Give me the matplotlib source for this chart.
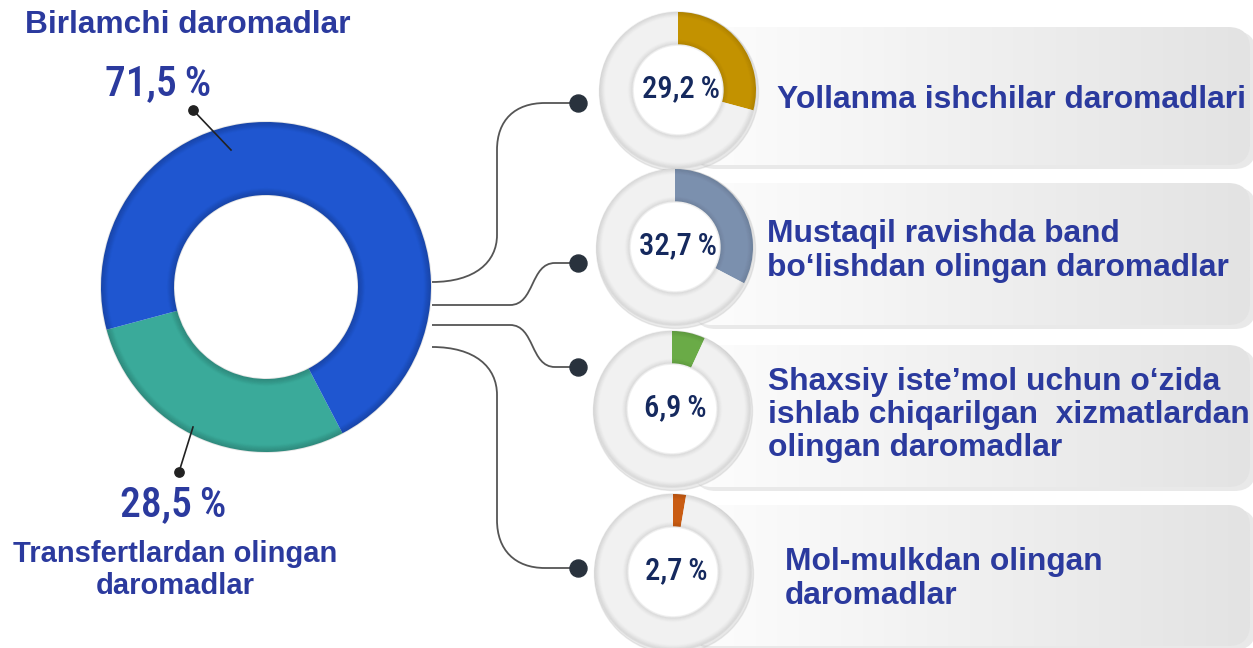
import numpy as np
import matplotlib.pyplot as plt
from matplotlib import font_manager
from matplotlib.patches import Circle, FancyBboxPatch, PathPatch
from matplotlib.path import Path
from matplotlib.colors import LinearSegmentedColormap

# main split
main_names = ['Transfertlardan olingan\ndaromadlar', 'Birlamchi daromadlar']
main_values = [28.5, 71.5]
main_colors = ['#3aaa9a', '#1f56d0']

# breakdown of primary income
sub_names = ['Yollanma ishchilar daromadlari',
             'Mustaqil ravishda band\nbo‘lishdan olingan daromadlar',
             'Shaxsiy iste’mol uchun o‘zida\nishlab chiqarilgan  xizmatlardan\nolingan daromadlar',
             'Mol-mulkdan olingan\ndaromadlar']
sub_values = [29.2, 32.7, 6.9, 2.7]
sub_colors = ['#c39200', '#7b90ae', '#6aab47', '#c95c13']

W, H = 1253, 648
TXT = '#2b3a9e'
NAVY = '#15295e'
BOLD = ['Liberation Sans', 'DejaVu Sans']

# look for some condensed face for the percentages
narrow_fam, narrow_stretch = 'Liberation Sans', 'normal'
have = font_manager.fontManager.ttflist
for want in ['Roboto Condensed', 'Liberation Sans Narrow', 'Open Sans Condensed', 'Noto Sans Condensed']:
    if any(f.name == want for f in have):
        narrow_fam = want
        break
else:
    for f in have:
        if f.name in ('DejaVu Sans', 'Noto Sans', 'Roboto', 'Open Sans') and \
                str(f.stretch) in ('condensed', 'semi-condensed', 'extra-condensed'):
            narrow_fam, narrow_stretch = f.name, f.stretch
            break
narrow_ok = narrow_fam != 'Liberation Sans'
NARROW = [narrow_fam, 'DejaVu Sans']


def pct(v):
    return ('%.1f' % v).replace('.', ',') + '\u2009%'


def shade_ring(ax, c, r_out, r_in, z, strength=0.07, n=8, step=0.9):
    # fake soft shadow on both rims
    for i in range(n):
        a = strength * (n - i) / n
        ax.add_patch(Circle(c, r_out - i * step, fill=False, lw=1.3, ec='black', alpha=a, zorder=z))
        ax.add_patch(Circle(c, r_in + i * step, fill=False, lw=1.3, ec='black', alpha=a, zorder=z))


fig = plt.figure(figsize=(W / 100, H / 100), dpi=100)
ax = fig.add_axes([0, 0, 1, 1])

# big donut (y axis is flipped later, so angles run the other way)
big_c = (266, 287)
ax.pie(main_values, colors=main_colors, radius=165, center=big_c,
       startangle=165, counterclock=False,
       wedgeprops=dict(width=73, edgecolor='none', zorder=2))
shade_ring(ax, big_c, 165, 92, 3, strength=0.1)

# leader lines for big donut
ax.plot([193, 231], [110, 150], color='#222222', lw=1.2, zorder=4)
ax.plot([179, 193], [472, 427], color='#222222', lw=1.2, zorder=4)
ax.scatter([193, 179], [110, 472], s=45, color='#222222', zorder=5)

big_fs = 30 if narrow_ok else 26
small_fs = 22 if narrow_ok else 18
ax.text(188, 25, main_names[1], ha='center', va='center', fontsize=22.8,
        fontweight='bold', color=TXT, family=BOLD)
ax.text(158, 84, pct(main_values[1]), ha='center', va='center', fontsize=big_fs,
        fontweight='medium', color=TXT, family=NARROW, fontstretch=narrow_stretch)
ax.text(173, 505, pct(main_values[0]), ha='center', va='center', fontsize=big_fs,
        fontweight='medium', color=TXT, family=NARROW, fontstretch=narrow_stretch)
ax.text(175, 570, main_names[0], ha='center', va='center', fontsize=21,
        fontweight='bold', color=TXT, family=BOLD, linespacing=1.2)

# connectors
M, L, C = Path.MOVETO, Path.LINETO, Path.CURVE4
paths = [
    ([(432, 282), (475, 282), (497, 262), (497, 235), (497, 150), (497, 120), (515, 103), (545, 103), (578, 103)],
     [M, C, C, C, L, C, C, C, L]),
    ([(432, 305), (510, 305), (535, 305), (530, 263), (555, 263), (578, 263)],
     [M, L, C, C, C, L]),
    ([(432, 325), (510, 325), (535, 325), (530, 367), (555, 367), (578, 367)],
     [M, L, C, C, C, L]),
    ([(432, 347), (475, 347), (497, 367), (497, 395), (497, 520), (497, 550), (515, 568), (545, 568), (578, 568)],
     [M, C, C, C, L, C, C, C, L]),
]
for pts, codes in paths:
    ax.add_patch(PathPatch(Path(pts, codes), fc='none', ec='#555555', lw=1.3, zorder=2))
ax.scatter([578] * 4, [103, 263, 367, 568], s=150, color='#29323d', zorder=5)

# grey panels
boxes = [(27, 165), (183, 325), (345, 487), (505, 646)]
cmap = LinearSegmentedColormap.from_list('g', ['#fdfdfd', '#e3e3e3'])
grad = np.linspace(0, 1, 256).reshape(1, -1)
for top, bot in boxes:
    sh = FancyBboxPatch((694, top + 4), 1252 - 690, bot - top,
                        boxstyle='round,pad=0,rounding_size=22',
                        fc='#c8c8c8', ec='none', alpha=0.4, zorder=0.5)
    ax.add_patch(sh)
    bx = FancyBboxPatch((690, top), 1250 - 690, bot - top,
                        boxstyle='round,pad=0,rounding_size=22',
                        fc='none', ec='none', zorder=1)
    ax.add_patch(bx)
    im = ax.imshow(grad, extent=(690, 1250, bot, top), cmap=cmap,
                   aspect='auto', zorder=1)
    im.set_clip_path(bx)

# small donuts
centers = [(678, 90), (675, 247), (672, 409), (673, 572)]
text_x = [777, 767, 768, 785]
text_y = [100, 251, 415, 579]
for i, v in enumerate(sub_values):
    c = centers[i]
    ax.add_patch(Circle((c[0] + 1, c[1] + 2), 79.5, color='#c4c4c4', alpha=0.35, zorder=1.5))
    ax.pie([v, 100 - v], colors=[sub_colors[i], '#f1f1f1'], radius=78, center=c,
           startangle=-90, counterclock=True,
           wedgeprops=dict(width=33, edgecolor='none', zorder=2))
    ax.add_patch(Circle(c, 45, color='white', zorder=2.5))
    shade_ring(ax, c, 78, 45, 3, strength=0.05, n=6)
    ax.text(c[0] + 3, c[1] - 1, pct(v), ha='center', va='center', fontsize=small_fs,
            fontweight='medium', color=NAVY, family=NARROW, fontstretch=narrow_stretch, zorder=6)
    ax.text(text_x[i], text_y[i], sub_names[i], ha='left', va='center', fontsize=22.9,
            fontweight='bold', color=TXT, family=BOLD, linespacing=1.15, zorder=6)

ax.set_xlim(0, W)
ax.set_ylim(H, 0)
ax.set_aspect('auto')
ax.axis('off')
fig.savefig('out.png', dpi=100)
